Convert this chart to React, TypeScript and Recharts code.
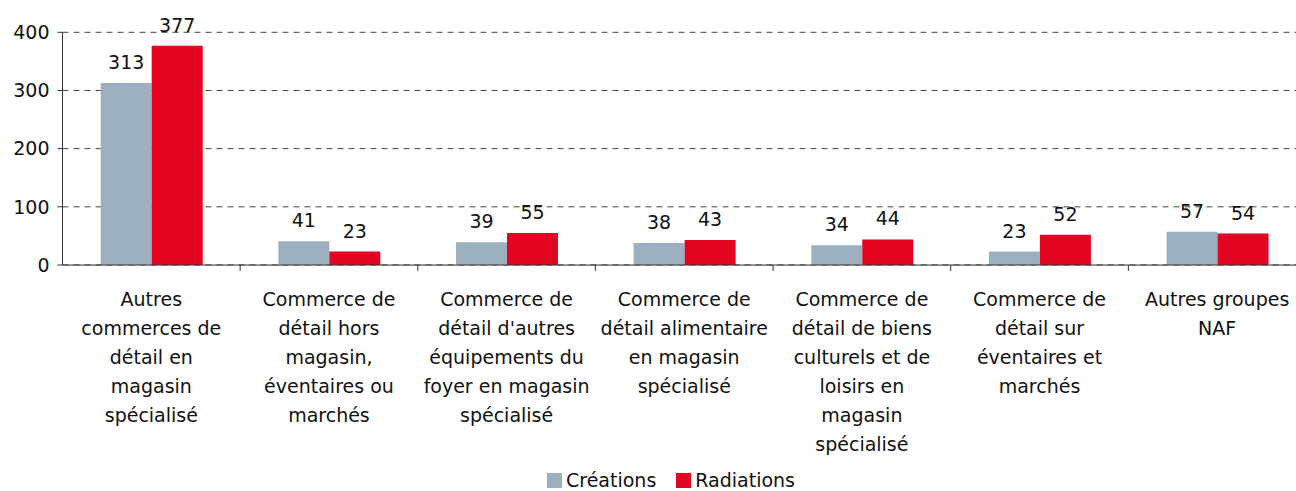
import React from 'react';
import { BarChart, Bar, XAxis, YAxis, CartesianGrid, LabelList } from 'recharts';

const categories = [
  'Autres\ncommerces de\ndétail en\nmagasin\nspécialisé',
  'Commerce de\ndétail hors\nmagasin,\néventaires ou\nmarchés',
  "Commerce de\ndétail d'autres\néquipements du\nfoyer en magasin\nspécialisé",
  'Commerce de\ndétail alimentaire\nen magasin\nspécialisé',
  'Commerce de\ndétail de biens\nculturels et de\nloisirs en\nmagasin\nspécialisé',
  'Commerce de\ndétail sur\néventaires et\nmarchés',
  'Autres groupes\nNAF',
];
const creations = [313, 41, 39, 38, 34, 23, 57];
const radiations = [377, 23, 55, 43, 44, 52, 54];
const yTicks = [0, 100, 200, 300, 400];

const data = categories.map((name, i) => ({
  name,
  creations: creations[i],
  radiations: radiations[i],
}));

const FONT = '"DejaVu Sans", sans-serif';
const GREY = '#9DB0C0';
const RED = '#E30421';
const AXIS = '#333';

const CHART_W = 1310;
const CHART_H = 491;
const Y_W = 62.5;
const M_RIGHT = 4;
const BAND = (CHART_W - Y_W - M_RIGHT) / categories.length;

const CategoryTick = (props: any) => {
  const { x, y, payload } = props;
  const lines = String(payload.value).split('\n');
  return (
    <g>
      <line x1={x + BAND / 2} x2={x + BAND / 2} y1={y} y2={y + 6} stroke={AXIS} />
      <text x={x} y={y + 41} textAnchor="middle" fontSize={19} fontFamily={FONT} fill="#111">
        {lines.map((l, i) => (
          <tspan key={i} x={x} dy={i === 0 ? 0 : 29}>
            {l}
          </tspan>
        ))}
      </text>
    </g>
  );
};

const ValueLabel = (props: any) => {
  const { x, y, width, value } = props;
  return (
    <text x={x + width / 2} y={y - 14} textAnchor="middle" fontSize={19} fontFamily={FONT} fill="#111">
      {value}
    </text>
  );
};

export default function App() {
  return (
    <div style={{ position: 'absolute', left: 0, top: 0, width: 1296, height: 491, overflow: 'hidden', background: '#fff' }}>
      <BarChart
        width={CHART_W}
        height={CHART_H}
        data={data}
        margin={{ top: 32.3, right: M_RIGHT, left: 0, bottom: 0 }}
        barCategoryGap="21.5%"
        barGap={0}
      >
        <CartesianGrid vertical={false} stroke="#444" strokeDasharray="6 5" />
        <XAxis
          dataKey="name"
          interval={0}
          height={226}
          tickLine={false}
          tickSize={0}
          tickMargin={0}
          stroke={AXIS}
          tick={<CategoryTick />}
        />
        <YAxis
          width={Y_W}
          domain={[0, 400]}
          ticks={yTicks}
          tickSize={5}
          tickMargin={8}
          stroke={AXIS}
          tick={{ fill: '#111', fontSize: 19, fontFamily: FONT }}
        />
        <Bar dataKey="creations" fill={GREY} isAnimationActive={false}>
          <LabelList dataKey="creations" content={<ValueLabel />} />
        </Bar>
        <Bar dataKey="radiations" fill={RED} isAnimationActive={false}>
          <LabelList dataKey="radiations" content={<ValueLabel />} />
        </Bar>
      </BarChart>
      <div
        style={{
          position: 'absolute',
          left: 547,
          top: 470,
          display: 'flex',
          alignItems: 'center',
          fontFamily: FONT,
          fontSize: 19,
          color: '#111',
          lineHeight: '20px',
        }}
      >
        <span style={{ width: 15, height: 15, background: GREY, display: 'inline-block', marginRight: 4 }} />
        <span>Créations</span>
        <span style={{ width: 15, height: 15, background: RED, display: 'inline-block', marginLeft: 20, marginRight: 4 }} />
        <span>Radiations</span>
      </div>
    </div>
  );
}
